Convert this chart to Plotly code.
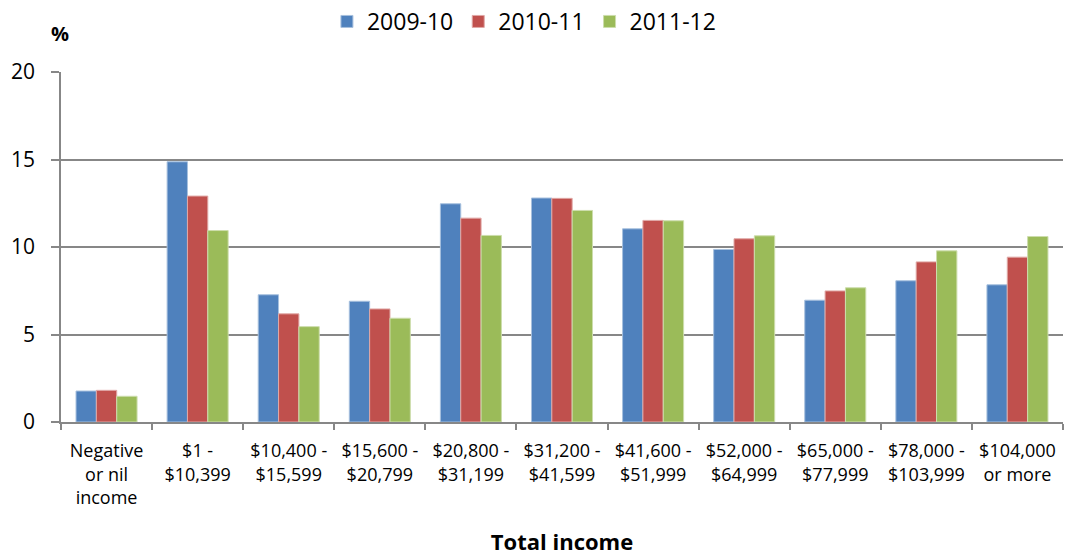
import plotly.graph_objects as go

categories = ["Negative<br>or nil<br>income", "$1 -<br>$10,399", "$10,400 -<br>$15,599", "$15,600 -<br>$20,799",
              "$20,800 -<br>$31,199", "$31,200 -<br>$41,599", "$41,600 -<br>$51,999", "$52,000 -<br>$64,999",
              "$65,000 -<br>$77,999", "$78,000 -<br>$103,999", "$104,000<br>or more"]
series_names = ["2009-10", "2010-11", "2011-12"]
v2009 = [1.77, 14.87, 7.27, 6.9, 12.47, 12.8, 11.04, 9.86, 6.96, 8.07, 7.84]
v2010 = [1.81, 12.91, 6.18, 6.46, 11.65, 12.78, 11.52, 10.47, 7.49, 9.15, 9.42]
v2011 = [1.47, 10.94, 5.45, 5.93, 10.66, 12.09, 11.5, 10.64, 7.67, 9.78, 10.6]
colors = ["#4F81BD", "#C0504D", "#9BBB59"]
line_colors = ["#A7C0DE", "#E0A8A6", "#CDDDAC"]
yticks = [0, 5, 10, 15, 20]

FONT = "Open Sans, sans-serif"

fig = go.Figure()
for name, vals, c, lc in zip(series_names, [v2009, v2010, v2011], colors, line_colors):
    fig.add_trace(go.Bar(x=categories, y=vals, name=name, marker_color=c,
                         marker_line=dict(color=lc, width=1)))

fig.update_layout(
    width=1065, height=557,
    margin=dict(l=61, r=2, t=72, b=135),
    plot_bgcolor="white", paper_bgcolor="white",
    barmode="group", bargap=0.33, bargroupgap=0,
    font=dict(family=FONT, size=17, color="black"),
    legend=dict(orientation="h", x=0.462, xanchor="center", y=1.0, yref="container", yanchor="top",
                font=dict(size=23), itemwidth=30, traceorder="normal"),
    xaxis=dict(showline=True, linecolor="#878787", linewidth=1.5, ticks="outside", tickson="boundaries",
               ticklen=6, tickcolor="#878787", tickwidth=1.5, tickfont=dict(size=18),
               ticklabelstandoff=12,
               title=dict(text="<b>Total income</b>", font=dict(size=22), standoff=26)),
    yaxis=dict(range=[0, 20], tickvals=yticks, showgrid=True, gridcolor="#878787", gridwidth=1.5,
               showline=True, linecolor="#878787", linewidth=1.5, ticks="outside", ticklen=8,
               tickcolor="#878787", tickwidth=1.5, tickfont=dict(size=21), zeroline=False,
               ticklabelstandoff=12),
    annotations=[dict(text="<b>%</b>", xref="paper", yref="paper", x=(60 - 61) / 1002, y=(422 - 33) / 350,
                      xanchor="center", yanchor="middle", showarrow=False, font=dict(size=20))],
)
fig.write_html("out.html")
